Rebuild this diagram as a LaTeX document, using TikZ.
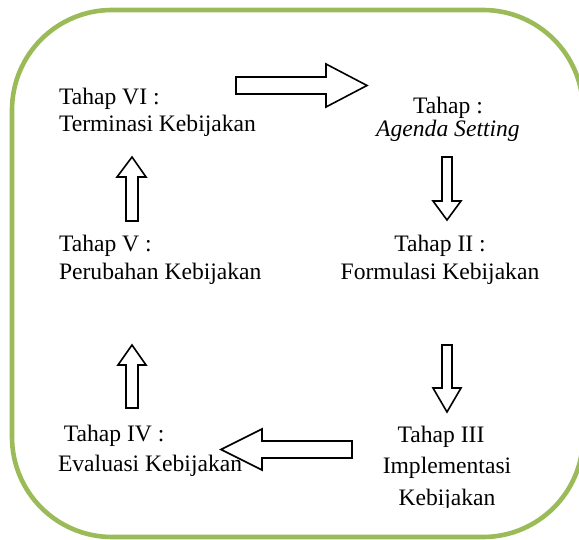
\documentclass[tikz,border=0pt]{standalone}
\usepackage{fontspec}
\setmainfont{Liberation Serif}
\usetikzlibrary{calc}
\definecolor{hijau}{HTML}{9BBB59}
\tikzset{every picture/.style={line width=0.75pt}}
\tikzset{
  tahap/.style={inner sep=0pt, outer sep=0pt},
  panah/.style={draw=black, fill=white, line width=0.8pt, line join=miter},
}

\begin{document}
\begin{tikzpicture}[x=0.5pt, y=-0.5pt]
    \useasboundingbox (0,0) rectangle (579,540);

    % bingkai hijau
    \begin{scope}
        \clip (0,0) rectangle (579,540);
        \draw[hijau, line width=2.3pt, rounded corners=50pt] (12,10) rectangle (583,537);
    \end{scope}

    % tahap-tahap kebijakan (titik = garis dasar baris terakhir)
    \node[tahap, anchor=base west, align=left, font=\fontsize{11.8}{13.3}\selectfont] (tahap6) at (59,131.6) {Tahap VI :\\Terminasi Kebijakan};
    \node[tahap, anchor=base, align=center, font=\fontsize{11.8}{11.5}\selectfont] (agenda) at (448,137) {Tahap :\\\textit{Agenda Setting}};
    \node[tahap, anchor=base, align=center, font=\fontsize{11.8}{14}\selectfont] (tahap2) at (440,279) {Tahap II :\\Formulasi Kebijakan};
    \node[tahap, anchor=base west, align=left, font=\fontsize{11.8}{14}\selectfont] (tahap5) at (59,279) {Tahap V :\\Perubahan Kebijakan};
    \node[tahap, anchor=base west, align=left, font=\fontsize{11.8}{14.8}\selectfont] (tahap4) at (58,471.5) {\hspace*{0.25em}Tahap IV :\\Evaluasi Kebijakan};
    \begin{scope}
        \clip (300,400) rectangle (579,507);
        \node[tahap, anchor=base, align=center, font=\fontsize{11.8}{15.7}\selectfont] (tahap3) at (447,505) {Tahap III\hspace*{6pt}\\Implementasi\\Kebijakan};
    \end{scope}

    % panah blok
    \draw[panah] (236,77) -- (326,77) -- (326,64) -- (367,85.5) -- (326,107) -- (326,94) -- (236,94) -- cycle;
    \draw[panah] (442,157) -- (452,157) -- (452,201) -- (461,201) -- (447,220) -- (433,201) -- (442,201) -- cycle;
    \draw[panah] (442,345) -- (452,345) -- (452,388) -- (461,388) -- (447,412) -- (433,388) -- (442,388) -- cycle;
    \draw[panah] (352,441) -- (262,441) -- (262,429) -- (221,449.5) -- (262,470) -- (262,458) -- (352,458) -- cycle;
    \draw[panah] (126,408) -- (126,365) -- (118,365) -- (132,345) -- (146,365) -- (138,365) -- (138,408) -- cycle;
    \draw[panah] (126,221) -- (126,177) -- (117,177) -- (132,157) -- (146,177) -- (138,177) -- (138,221) -- cycle;
\end{tikzpicture}
\end{document}
